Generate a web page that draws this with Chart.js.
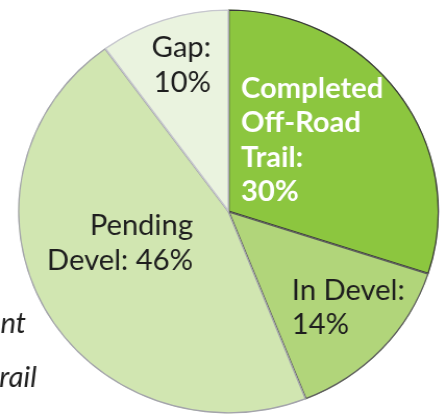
<!DOCTYPE html>
<html>
<head>
<meta charset="utf-8">
<script src="https://cdn.jsdelivr.net/npm/chart.js@4.4.1/dist/chart.umd.min.js"></script>
<style>
  html, body { margin: 0; padding: 0; background: #ffffff; overflow: hidden; }
  #wrap { position: absolute; left: 0; top: 0; width: 430px; height: 415px;
          transform: scaleX(1.042); transform-origin: 0 0; }
</style>
</head>
<body>
<div id="wrap"><canvas id="c"></canvas></div>
<script>
// ---- data ----
const categories = ["Completed Off-Road Trail", "In Devel", "Pending Devel", "Gap"];
const shares = [30, 14, 46, 10];
const sliceLabels = [
  ["Completed", "Off-Road", "Trail:", "30%"],
  ["In Devel:", "14%"],
  ["Pending", "Devel: 46%"],
  ["Gap:", "10%"]
];
const sideTexts = ["nt", "rail"];

// ---- styles / layout ----
const fills = ["#8CC63F", "#B1D57A", "#D1E6B1", "#EAF3DF"];
const edges = ["#3A3A3A", "#5E5E5E", "#A4A4AC", "#C6C6CE"];
const labelLayout = [
  { x: 231.3, y: 97.5, align: "left", color: "#FFFFFF", weight: "bold" },
  { x: 280.0, y: 299.5, align: "left", color: "#1E1E1E", weight: "normal" },
  { x: 185.2, y: 235.0, align: "right", color: "#1E1E1E", weight: "normal" },
  { x: 202.5, y: 57.0, align: "right", color: "#1E1E1E", weight: "normal" }
];
const lineGap = 34.5;
const sideLayout = [ { x: 25, y: 333 }, { x: 35.2, y: 387 } ];
const fontFamily = "Lato, 'Open Sans', sans-serif";
const fontSize = 28;

const labelPlugin = {
  id: "sliceText",
  afterDraw(chart) {
    const ctx = chart.ctx;
    ctx.save();
    ctx.textBaseline = "alphabetic";
    sliceLabels.forEach((lines, i) => {
      const L = labelLayout[i];
      ctx.font = `${L.weight} ${fontSize}px ${fontFamily}`;
      ctx.fillStyle = L.color;
      ctx.textAlign = L.align;
      lines.forEach((t, k) => ctx.fillText(t, L.x, L.y + k * lineGap));
    });
    ctx.font = `italic ${fontSize}px ${fontFamily}`;
    ctx.fillStyle = "#1E1E1E";
    ctx.textAlign = "right";
    sideTexts.forEach((t, k) => ctx.fillText(t, sideLayout[k].x, sideLayout[k].y));
    ctx.restore();
  }
};

new Chart(document.getElementById("c"), {
  type: "pie",
  data: {
    labels: categories,
    datasets: [{
      data: shares,
      backgroundColor: fills,
      borderColor: edges,
      borderWidth: 1,
      borderAlign: "inner"
    }]
  },
  options: {
    responsive: true,
    maintainAspectRatio: false,
    animation: false,
    radius: 202,
    layout: { padding: { left: 8.6, top: 8, right: 0, bottom: 0 } },
    plugins: { legend: { display: false }, tooltip: { enabled: false } }
  },
  plugins: [labelPlugin]
});
</script>
</body>
</html>
